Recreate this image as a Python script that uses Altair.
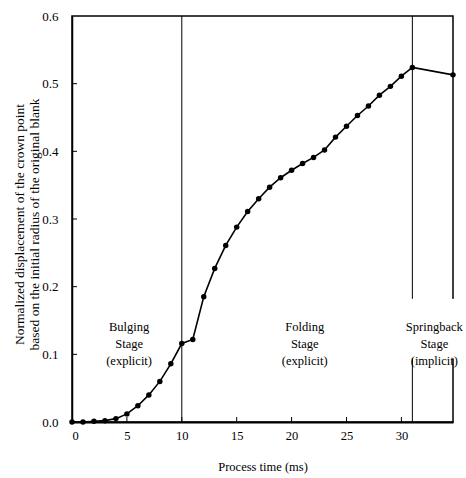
import altair as alt
import pandas as pd

# ---- data ----
time_ms = [0, 1, 2, 3, 4, 5, 6, 7, 8, 9, 10, 11, 12, 13, 14, 15, 16, 17, 18, 19, 20,
           21, 22, 23, 24, 25, 26, 27, 28, 29, 30, 31, 34.7]
displacement = [0.0, 0.0, 0.001, 0.002, 0.005, 0.012, 0.024, 0.040, 0.060, 0.086, 0.116,
                0.122, 0.185, 0.227, 0.261, 0.288, 0.311, 0.330, 0.347, 0.361, 0.372,
                0.382, 0.391, 0.402, 0.421, 0.437, 0.453, 0.467, 0.483, 0.496, 0.511,
                0.524, 0.513]

stage_x = [10, 31, 31]
stage_y_from = [0.0, 0.0, 0.182]
stage_y_to = [0.6, 0.094, 0.6]

label_x = [5.2, 21.2, 33.0]
label_y = [0.14, 0.14, 0.14]
label_text = ["Bulging\nStage\n(explicit)", "Folding\nStage\n(explicit)",
              "Springback\nStage\n(implicit)"]

x_ticks = [0, 5, 10, 15, 20, 25, 30]
y_ticks = [0.0, 0.1, 0.2, 0.3, 0.4, 0.5, 0.6]

X_MAX = 34.7
W, H = 381, 406
FONT = "Liberation Serif"

df = pd.DataFrame({"t": time_ms, "d": displacement})
stages = pd.DataFrame({"x": stage_x, "y": stage_y_from, "y2": stage_y_to})
border_gap = pd.DataFrame({"x": [X_MAX], "y": [0.094], "y2": [0.182]})
labels = pd.DataFrame({"x": label_x, "y": label_y, "text": label_text})
xt = pd.DataFrame({"x": x_ticks[1:]})
yt = pd.DataFrame({"y": y_ticks[1:-1]})

xscale = alt.Scale(domain=[0, X_MAX], nice=False, zero=False)
yscale = alt.Scale(domain=[0, 0.6], nice=False)

xaxis = alt.Axis(values=x_ticks, title="Process time (ms)", grid=False, ticks=False,
                 tickSize=0, labelPadding=7, labelFont=FONT, labelFontSize=12.5,
                 labelColor="black", domainColor="black", domainWidth=2,
                 titleFont=FONT, titleFontSize=12.5, titleFontWeight="normal",
                 titleColor="black", titleY=44, titleBaseline="middle")
yaxis = alt.Axis(values=y_ticks, format=".1f",
                 title=["Normalized displacement of the crown point",
                        "based on the initial radius of the original blank"],
                 grid=False, ticks=False, tickSize=0, labelPadding=14,
                 labelFont=FONT, labelFontSize=13, labelColor="black",
                 domainColor="black", domainWidth=1.5,
                 titleFont=FONT, titleFontSize=13.5, titleFontWeight="normal",
                 titleColor="black", titleAngle=-90, titleX=-60, titleY=208,
                 titleBaseline="top", titleAlign="center", titleLineHeight=15.5)

base = alt.Chart(df)
line = base.mark_line(color="black", strokeWidth=1.6).encode(
    x=alt.X("t:Q", scale=xscale, axis=xaxis),
    y=alt.Y("d:Q", scale=yscale, axis=yaxis),
)
pts = base.mark_circle(color="black", size=30, opacity=1).encode(
    x=alt.X("t:Q", scale=xscale),
    y=alt.Y("d:Q", scale=yscale),
)
stage_rules = alt.Chart(stages).mark_rule(color="black", strokeWidth=1).encode(
    x=alt.X("x:Q", scale=xscale),
    y=alt.Y("y:Q", scale=yscale),
    y2="y2:Q",
)
gap_rule = alt.Chart(border_gap).mark_rule(color="white", strokeWidth=4).encode(
    x=alt.X("x:Q", scale=xscale),
    y=alt.Y("y:Q", scale=yscale),
    y2="y2:Q",
)
xtick_rules = alt.Chart(xt).mark_rule(color="black", strokeWidth=1).encode(
    x=alt.X("x:Q", scale=xscale),
    y=alt.value(H),
    y2=alt.value(H - 5),
)
ytick_rules = alt.Chart(yt).mark_rule(color="black", strokeWidth=1).encode(
    y=alt.Y("y:Q", scale=yscale),
    x=alt.value(0),
    x2=alt.value(5),
)
texts = alt.Chart(labels).mark_text(font=FONT, fontSize=12.5, color="black",
                                    lineBreak="\n", lineHeight=17,
                                    baseline="middle", align="center").encode(
    x=alt.X("x:Q", scale=xscale),
    y=alt.Y("y:Q", scale=yscale),
    text="text:N",
)

chart = alt.layer(stage_rules, line, pts, xtick_rules, ytick_rules, gap_rule, texts).properties(
    width=W, height=H,
    autosize=alt.AutoSizeParams(type="none"),
    padding={"left": 72, "top": 16, "right": 13, "bottom": 56},
    background="white",
).configure_view(stroke="black", strokeWidth=1.5)

chart.save("out.html", embed_options={"renderer": "svg", "actions": False})
